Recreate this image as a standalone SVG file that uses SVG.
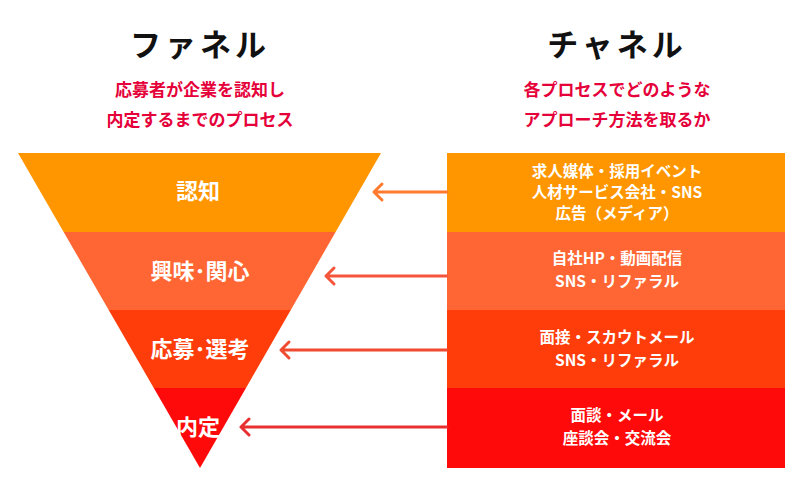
<svg xmlns="http://www.w3.org/2000/svg" width="800" height="484" viewBox="0 0 800 484">
<defs>
<style>
text{font-family:"Noto Sans CJK JP",sans-serif;font-weight:bold;text-anchor:middle}
.h{font-size:31px;fill:#111;letter-spacing:4px}
.s{font-size:17px;fill:#E5003A}
.f{font-size:22px;fill:#fff}
.c{font-size:15.5px;fill:#fff}
.a{fill:none;stroke-width:3;stroke-linecap:round;stroke-linejoin:round}
</style>
<clipPath id="tri"><polygon points="18,153 381,153 200,468"/></clipPath>
</defs>
<rect width="800" height="484" fill="#fff"/>
<g id="titles">
<text class="h" x="200" y="56">ファネル</text>
<text class="s" x="200" y="96">応募者が企業を認知し</text>
<text class="s" x="200" y="126">内定するまでのプロセス</text>
<text class="h" x="617" y="56">チャネル</text>
<text class="s" x="617" y="96">各プロセスでどのような</text>
<text class="s" x="617" y="126">アプローチ方法を取るか</text>
</g>
<g id="funnel" clip-path="url(#tri)">
<rect x="0" y="153" width="400" height="79" fill="#FF9600"/>
<rect x="0" y="232" width="400" height="78" fill="#FF6633"/>
<rect x="0" y="310" width="400" height="78" fill="#FF3D0A"/>
<rect x="0" y="388" width="400" height="80" fill="#FF0A0A"/>
</g>
<g id="funnel-labels">
<text class="f" x="198" y="199">認知</text>
<text class="f" x="200" y="279">興味･関心</text>
<text class="f" x="200" y="357">応募･選考</text>
<text class="f" x="198" y="435">内定</text>
</g>
<g id="channels">
<rect x="447" y="153" width="338" height="79" fill="#FF9600"/>
<rect x="447" y="232" width="338" height="78" fill="#FF6633"/>
<rect x="447" y="310" width="338" height="78" fill="#FF3D0A"/>
<rect x="447" y="388" width="338" height="80" fill="#FF0A0A"/>
<text class="c" x="617" y="177">求人媒体・採用イベント</text>
<text class="c" x="617" y="198">人材サービス会社・SNS</text>
<text class="c" x="617" y="219">広告（メディア）</text>
<text class="c" x="617" y="264">自社HP・動画配信</text>
<text class="c" x="617" y="287">SNS・リファラル</text>
<text class="c" x="617" y="343">面接・スカウトメール</text>
<text class="c" x="617" y="366">SNS・リファラル</text>
<text class="c" x="617" y="421">面談・メール</text>
<text class="c" x="617" y="444">座談会・交流会</text>
</g>
<g id="connectors">
<path class="a" stroke="#FF7A2E" d="M447,192H374M382,184L374,192L382,200"/>
<path class="a" stroke="#F5553A" d="M447,276H326M334,268L326,276L334,284"/>
<path class="a" stroke="#F04A30" d="M447,350H281M289,342L281,350L289,358"/>
<path class="a" stroke="#E83030" d="M447,427H241M249,419L241,427L249,435"/>
</g>
</svg>
